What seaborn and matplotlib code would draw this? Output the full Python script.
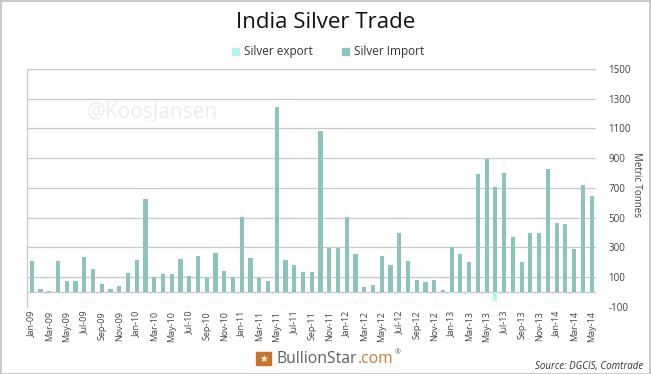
import numpy as np
import pandas as pd
import matplotlib
matplotlib.use("Agg")
import matplotlib.pyplot as plt
import seaborn as sns
from matplotlib.patches import Rectangle

months = ["Jan", "Feb", "Mar", "Apr", "May", "Jun", "Jul", "Aug", "Sep", "Oct", "Nov", "Dec"]
years = ["09", "10", "11", "12", "13", "14"]
categories = [f"{m}-{y}" for y in years for m in months][:65]

silver_import = [209, 18, 5, 210, 76, 70, 233, 152, 54, 18, 36, 128,
                 213, 626, 103, 123, 119, 218, 108, 240, 90, 263, 139, 103,
                 507, 231, 90, 76, 1247, 217, 179, 134, 134, 1085, 292, 298,
                 507, 256, 33, 47, 240, 179, 393, 210, 83, 63, 83, 13,
                 305, 253, 202, 794, 893, 704, 799, 370, 202, 393, 397, 828,
                 465, 460, 289, 716, 642]
silver_export = [0, 0, 0, 0, 0, 0, 0, 0, 0, 0, 0, 0,
                 0, 0, 0, 0, 0, 0, 0, 0, 0, 0, 0, 0,
                 0, 0, 0, 0, 0, 0, 0, 0, 0, 0, 0, 0,
                 0, 0, -3, 0, 0, -3, 0, 0, -3, 0, 0, 0,
                 -5, 0, -10, 0, 0, -63, 0, 0, 0, 0, 0, 0,
                 0, 0, 0, 0, 0]
series_names = ["Silver export", "Silver Import"]
yticks = [-100, 100, 300, 500, 700, 900, 1100, 1300, 1500]

col_export = "#b4f4ef"
col_import = "#8cc4bd"

df = pd.DataFrame({
    "month": categories * 2,
    "value": silver_export + silver_import,
    "series": [series_names[0]] * len(categories) + [series_names[1]] * len(categories),
})

sns.set_theme(style="white")
plt.rcParams["font.family"] = ["Open Sans", "DejaVu Sans"]

fig = plt.figure(figsize=(6.51, 3.74), dpi=100)
ax = fig.add_axes([27 / 651, 1 - 306.7 / 374, (596 - 27) / 651, (306.7 - 69) / 374])

sns.barplot(data=df, x="month", y="value", hue="series", order=categories,
            hue_order=series_names, palette=[col_export, col_import],
            dodge=False, width=0.48, ax=ax, legend=False, saturation=1,
            linewidth=0, errorbar=None)

ax.set_ylim(-100, 1500)
ax.set_xlim(-0.54, 64.5)
for y in yticks:
    ax.axhline(y, color="#c8c8c8", lw=0.9, zorder=0)
ax.axhline(0, color="#c8c8c8", lw=0.9, zorder=0.5)
for i in range(0, 66, 2):
    ax.plot([i - 0.5, i - 0.5], [0, -8], color="#c8c8c8", lw=0.8, zorder=0.5, clip_on=False)
for s in ["top", "right", "bottom"]:
    ax.spines[s].set_visible(False)
ax.spines["left"].set_color("#c8c8c8")
ax.spines["left"].set_linewidth(0.9)

ax.yaxis.tick_right()
ax.set_yticks(yticks)
ax.set_yticklabels([str(v) for v in yticks], fontsize=7, color="#404040")
ax.tick_params(axis="y", which="both", length=0, pad=9)
ax.set_ylabel("")
ax.set_xlabel("")
ax.set_xticks(range(0, 65, 2))
ax.set_xticklabels(categories[::2], rotation=90, fontsize=6.5, color="#404040")
ax.tick_params(axis="x", length=0, pad=3)

fig.text(636 / 651, 1 - 185 / 374, "Metric Tonnes", rotation=-90, fontsize=7,
         color="#404040", ha="center", va="center")

fig.text(0.5, 1 - 22 / 374, "India Silver Trade", fontsize=16, color="#111111",
         ha="center", va="center")

# legend
lx = [232, 342]
for xx, name, col in zip(lx, series_names, [col_export, col_import]):
    fig.patches.append(Rectangle((xx / 651, 1 - 55 / 374), 7 / 651, 7 / 374,
                                 transform=fig.transFigure, color=col))
    fig.text((xx + 12) / 651, 1 - 51.5 / 374, name, fontsize=8.5, color="#333333",
             ha="left", va="center")

ax.text(0.105, 0.815, "@KoosJansen", transform=ax.transAxes, fontsize=15,
        color="#ececec", ha="left", va="center", zorder=0)

# footer
fig.patches.append(Rectangle((256 / 651, 1 - 365 / 374), 15 / 651, 13 / 374,
                             transform=fig.transFigure, color="#c8742e"))
fig.text(263.5 / 651, 1 - 358.5 / 374, "★", fontsize=7, color="white",
         ha="center", va="center", family="DejaVu Sans")
t1 = fig.text(277 / 651, 1 - 359 / 374, "BullionStar", fontsize=11.3, color="#606060",
              ha="left", va="center")
fig.canvas.draw()
r = fig.canvas.get_renderer()
bb = t1.get_window_extent(r)
x2 = bb.x1 / fig.bbox.width
t2 = fig.text(x2, 1 - 359 / 374, ".com", fontsize=11.3, color="#d07a35",
              ha="left", va="center")
bb2 = t2.get_window_extent(r)
fig.text(bb2.x1 / fig.bbox.width + 0.002, 1 - 353 / 374, "®", fontsize=5, color="#606060",
         ha="left", va="center")
fig.text(643 / 651, 1 - 366 / 374, "Source: DGCIS, Comtrade", fontsize=7,
         style="italic", color="#333333", ha="right", va="center")

fig.patches.append(Rectangle((0.5 / 651, 0.5 / 374), 649.5 / 651, 372.5 / 374,
                             transform=fig.transFigure, fill=False,
                             edgecolor="#c0c0c0", lw=1.2))

fig.savefig("out.png", dpi=100)
